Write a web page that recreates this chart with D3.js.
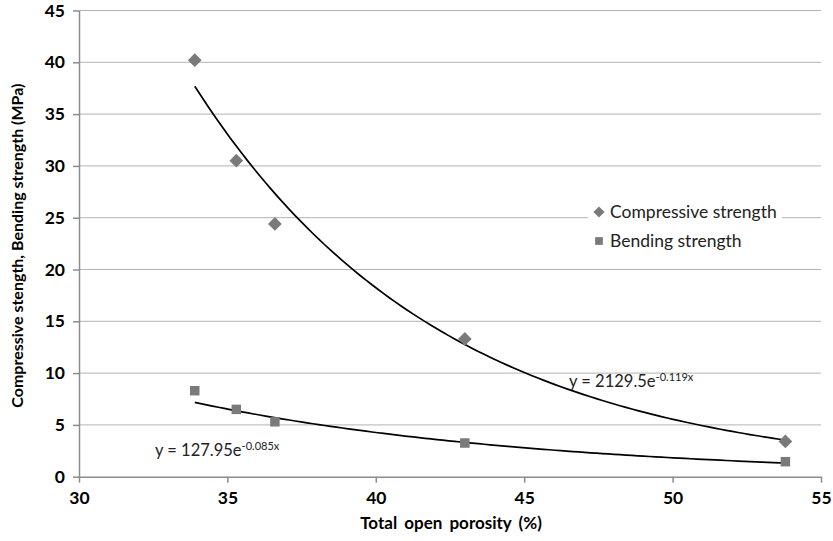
<!DOCTYPE html>
<html>
<head>
<meta charset="utf-8">
<script src="https://cdn.jsdelivr.net/npm/d3@7"></script>
<style>
  body { margin: 0; background: #fff; }
  svg { font-family: Lato, "Open Sans", sans-serif; }
</style>
</head>
<body>
<div id="chart"></div>
<script>
// values
const porosity = [33.9, 35.3, 36.6, 43.0, 53.8];
const compressive = [40.2, 30.5, 24.4, 13.3, 3.4];
const bending = [8.3, 6.5, 5.3, 3.25, 1.45];
const xTicks = [30, 35, 40, 45, 50, 55];
const yTicks = [0, 5, 10, 15, 20, 25, 30, 35, 40, 45];
// exponential trendlines y = a * e^(b x), as printed on the chart
const compressiveFit = [2129.5, -0.119];
const bendingFit = [127.95, -0.085];

const W = 833, H = 541;
const margin = { top: 10.5, right: 12, bottom: 64.3, left: 79 };

const svg = d3.select('#chart').append('svg')
  .attr('width', W)
  .attr('height', H);

const x = d3.scaleLinear().domain([30, 55]).range([margin.left, W - margin.right]);
const y = d3.scaleLinear().domain([0, 45]).range([H - margin.bottom, margin.top]);

// horizontal gridlines
svg.append('g')
  .selectAll('line')
  .data(yTicks.slice(1))
  .enter().append('line')
  .attr('x1', x(30)).attr('x2', x(55))
  .attr('y1', d => y(d)).attr('y2', d => y(d))
  .attr('stroke', '#b3b3b3')
  .attr('stroke-width', 1);

// axes
const yAxis = svg.append('g')
  .attr('transform', `translate(${x(30)},0)`)
  .call(d3.axisLeft(y).tickValues(yTicks).tickSize(6).tickSizeOuter(0).tickPadding(8));

const xAxis = svg.append('g')
  .attr('transform', `translate(0,${y(0)})`)
  .call(d3.axisBottom(x).tickValues(xTicks).tickSize(6).tickSizeOuter(0).tickPadding(9));

[yAxis, xAxis].forEach(a => {
  a.select('.domain').attr('stroke', '#8c8c8c').attr('stroke-width', 1.5);
  a.selectAll('.tick line').attr('stroke', '#8c8c8c').attr('stroke-width', 1.5);
  a.selectAll('.tick text')
    .attr('fill', '#000')
    .style('font-family', 'Lato, sans-serif')
    .style('font-size', '17.5px')
    .style('font-weight', 'bold');
});

// trendlines
const trend = (fit) => {
  const xs = d3.range(0, 101).map(i => porosity[0] + (porosity[porosity.length - 1] - porosity[0]) * i / 100);
  return d3.line()
    .x(d => x(d))
    .y(d => y(fit[0] * Math.exp(fit[1] * d)))(xs);
};

svg.append('path')
  .attr('d', trend(compressiveFit))
  .attr('fill', 'none')
  .attr('stroke', '#000')
  .attr('stroke-width', 1.7);

svg.append('path')
  .attr('d', trend(bendingFit))
  .attr('fill', 'none')
  .attr('stroke', '#000')
  .attr('stroke-width', 1.7);

const markerColor = '#7a7a7a';
const diamond = d3.symbol().type(d3.symbolDiamond2).size(120);
const square = d3.symbol().type(d3.symbolSquare).size(90);

svg.append('g')
  .selectAll('path')
  .data(porosity.map((p, i) => [p, compressive[i]]))
  .enter().append('path')
  .attr('d', diamond)
  .attr('transform', d => `translate(${x(d[0])},${y(d[1])})`)
  .attr('fill', markerColor);

svg.append('g')
  .selectAll('path')
  .data(porosity.map((p, i) => [p, bending[i]]))
  .enter().append('path')
  .attr('d', square)
  .attr('transform', d => `translate(${x(d[0])},${y(d[1])})`)
  .attr('fill', markerColor);

// trendline equations
const eq = (tx, ty, base, exp) => {
  const t = svg.append('text')
    .attr('x', tx).attr('y', ty)
    .attr('fill', '#222')
    .style('font-size', '16.5px');
  t.append('tspan').text(base);
  t.append('tspan').attr('dy', -6).style('font-size', '11px').text(exp);
};
eq(569, 387, 'y = 2129.5e', '-0.119x');
eq(155, 456, 'y = 127.95e', '-0.085x');

// legend
const legend = svg.append('g');
legend.append('rect')
  .attr('x', 588).attr('y', 198)
  .attr('width', 194).attr('height', 56)
  .attr('fill', '#fff');
legend.append('path')
  .attr('d', diamond.size(80)())
  .attr('transform', 'translate(599,212)')
  .attr('fill', markerColor);
legend.append('path')
  .attr('d', square.size(60)())
  .attr('transform', 'translate(599,241)')
  .attr('fill', markerColor);
legend.append('text')
  .attr('x', 610).attr('y', 218)
  .style('font-size', '17.5px')
  .attr('fill', '#222')
  .text('Compressive strength');
legend.append('text')
  .attr('x', 610).attr('y', 247)
  .style('font-size', '17.5px')
  .attr('fill', '#222')
  .text('Bending strength');

// axis titles
svg.append('text')
  .attr('x', 451).attr('y', 529)
  .attr('text-anchor', 'middle')
  .style('font-size', '17px')
  .style('font-weight', 'bold')
  .style('word-spacing', '3px')
  .text('Total open porosity (%)');

svg.append('text')
  .attr('transform', `translate(23,${(margin.top + y(0)) / 2 + 2}) rotate(-90)`)
  .attr('text-anchor', 'middle')
  .style('font-size', '16px')
  .style('font-weight', 'bold')
  .text('Compressive stength, Bending strength (MPa)');
</script>
</body>
</html>
